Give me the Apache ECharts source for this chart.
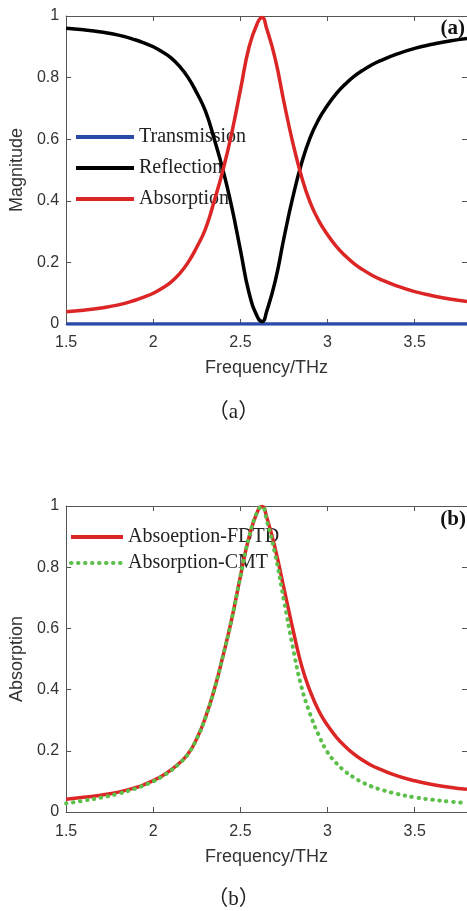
<!DOCTYPE html>
<html>
<head>
<meta charset="utf-8">
<script src="https://cdn.jsdelivr.net/npm/echarts@6/dist/echarts.min.js"></script>
<style>
  html, body { margin: 0; padding: 0; background: #fff; }
  #chart { width: 467px; height: 911px; }
</style>
</head>
<body>
<div id="chart"></div>
<script>
// shared frequency grid, THz
var freq = [1.5, 1.6, 1.7, 1.8, 1.9, 1.95, 2.0, 2.05, 2.1, 2.15, 2.2, 2.25, 2.3, 2.35, 2.4, 2.45, 2.5, 2.55, 2.6, 2.625, 2.65, 2.7, 2.75, 2.8, 2.85, 2.9, 2.95, 3.0, 3.05, 3.1, 3.15, 3.2, 3.25, 3.3, 3.4, 3.5, 3.6, 3.7, 3.8];

// panel (a)
var transA = [0, 0, 0, 0, 0, 0, 0, 0, 0, 0, 0, 0, 0, 0, 0, 0, 0, 0, 0, 0, 0, 0, 0, 0, 0, 0, 0, 0, 0, 0, 0, 0, 0, 0, 0, 0, 0, 0, 0];
var reflA = [0.960, 0.955, 0.948, 0.938, 0.922, 0.912, 0.900, 0.884, 0.865, 0.837, 0.80, 0.75, 0.69, 0.60, 0.50, 0.38, 0.24, 0.10, 0.02, 0.008, 0.04, 0.14, 0.28, 0.41, 0.52, 0.605, 0.665, 0.71, 0.748, 0.778, 0.803, 0.823, 0.840, 0.854, 0.877, 0.895, 0.908, 0.919, 0.927];
var absA = [0.040, 0.045, 0.052, 0.062, 0.078, 0.088, 0.100, 0.116, 0.135, 0.163, 0.20, 0.25, 0.31, 0.40, 0.50, 0.62, 0.76, 0.90, 0.98, 0.995, 0.96, 0.86, 0.72, 0.59, 0.48, 0.395, 0.335, 0.29, 0.252, 0.222, 0.197, 0.177, 0.160, 0.146, 0.123, 0.105, 0.092, 0.081, 0.073];

// panel (b)
var fdtdB = [0.042, 0.048, 0.055, 0.065, 0.080, 0.090, 0.103, 0.118, 0.137, 0.16, 0.19, 0.24, 0.31, 0.40, 0.51, 0.63, 0.77, 0.90, 0.985, 0.998, 0.965, 0.86, 0.73, 0.60, 0.48, 0.395, 0.33, 0.283, 0.245, 0.215, 0.19, 0.17, 0.153, 0.14, 0.118, 0.102, 0.09, 0.081, 0.074];
var cmtB = [0.028, 0.037, 0.047, 0.060, 0.077, 0.088, 0.100, 0.116, 0.135, 0.159, 0.19, 0.24, 0.31, 0.40, 0.51, 0.63, 0.77, 0.90, 0.985, 0.998, 0.955, 0.84, 0.69, 0.54, 0.41, 0.32, 0.25, 0.195, 0.16, 0.133, 0.113, 0.097, 0.084, 0.074, 0.059, 0.048, 0.040, 0.034, 0.029];

function pairs(xs, ys) {
    return xs.map(function (x, i) { return [x, ys[i]]; });
}

var axisColor = '#555';
var labelColor = '#333';

function xBottom(gridIndex, labelMargin, nameGap) {
    return {
        type: 'value', gridIndex: gridIndex, position: 'bottom',
        min: 1.5, max: 3.8, interval: 0.5,
        name: 'Frequency/THz', nameLocation: 'middle', nameGap: nameGap,
        nameTextStyle: { fontFamily: 'Liberation Sans', fontSize: 18, color: labelColor },
        axisLine: { show: true, onZero: false, lineStyle: { color: axisColor, width: 1 } },
        axisTick: { inside: true, length: 5, lineStyle: { color: axisColor } },
        axisLabel: { margin: labelMargin, fontFamily: 'Liberation Sans', fontSize: 16, color: labelColor, showMaxLabel: false },
        splitLine: { show: false }
    };
}
function xTop(gridIndex) {
    return {
        type: 'value', gridIndex: gridIndex, position: 'top',
        min: 1.5, max: 3.8, interval: 0.5,
        axisLine: { show: true, onZero: false, lineStyle: { color: axisColor, width: 1 } },
        axisTick: { inside: true, length: 5, lineStyle: { color: axisColor } },
        axisLabel: { show: false },
        splitLine: { show: false }
    };
}
function yLeft(gridIndex, name, nameGap) {
    return {
        type: 'value', gridIndex: gridIndex, position: 'left',
        min: 0, max: 1, interval: 0.2,
        name: name, nameLocation: 'middle', nameGap: nameGap,
        nameTextStyle: { fontFamily: 'Liberation Sans', fontSize: 18, color: labelColor },
        axisLine: { show: true, onZero: false, lineStyle: { color: axisColor, width: 1 } },
        axisTick: { show: true, inside: true, length: 5, lineStyle: { color: axisColor } },
        axisLabel: { margin: 7, fontFamily: 'Liberation Sans', fontSize: 16, color: labelColor },
        splitLine: { show: false }
    };
}
function yRight(gridIndex) {
    return {
        type: 'value', gridIndex: gridIndex, position: 'right',
        min: 0, max: 1, interval: 0.2,
        axisLine: { show: true, onZero: false, lineStyle: { color: axisColor, width: 1 } },
        axisTick: { show: true, inside: true, length: 5, lineStyle: { color: axisColor } },
        axisLabel: { show: false },
        splitLine: { show: false }
    };
}

var legendText = { fontFamily: 'Liberation Serif', fontSize: 20, color: '#222', lineHeight: 20 };

var myChart = echarts.init(document.getElementById('chart'));
var option = {
    animation: false,
    backgroundColor: '#fff',
    grid: [
        { left: 64, top: 16, width: 404.8, height: 308 },
        { left: 63, top: 506, width: 404.8, height: 306 }
    ],
    xAxis: [xBottom(0, 11, 35), xTop(0), xBottom(1, 12, 36), xTop(1)],
    yAxis: [yLeft(0, 'Magnitude', 30), yRight(0), yLeft(1, 'Absorption', 33), yRight(1)],
    legend: [
        {
            data: ['Transmission', 'Reflection', 'Absorption'],
            orient: 'vertical', left: 74, top: 127, padding: 0,
            itemWidth: 58, itemHeight: 14, itemGap: 11,
            itemStyle: { opacity: 0 },
            lineStyle: { width: 4 },
            textStyle: legendText
        },
        {
            data: ['Absoeption-FDTD', 'Absorption-CMT'],
            orient: 'vertical', left: 69, top: 527, padding: 0,
            itemWidth: 52, itemHeight: 14, itemGap: 6,
            itemStyle: { opacity: 0 },
            lineStyle: { width: 4 },
            textStyle: legendText
        }
    ],
    series: [
        {
            name: 'Transmission', type: 'line', xAxisIndex: 0, yAxisIndex: 0,
            symbol: 'none', smooth: true, color: '#2a4aa8',
            lineStyle: { width: 3.5, color: '#2a4aa8' },
            data: pairs(freq, transA), z: 3
        },
        {
            name: 'Reflection', type: 'line', xAxisIndex: 0, yAxisIndex: 0,
            symbol: 'none', smooth: true, color: '#000',
            lineStyle: { width: 3.5, color: '#000' },
            data: pairs(freq, reflA), z: 4
        },
        {
            name: 'Absorption', type: 'line', xAxisIndex: 0, yAxisIndex: 0,
            symbol: 'none', smooth: true, color: '#dc2626',
            lineStyle: { width: 3.5, color: '#dc2626' },
            data: pairs(freq, absA), z: 5
        },
        {
            name: 'Absoeption-FDTD', type: 'line', xAxisIndex: 2, yAxisIndex: 2,
            symbol: 'none', smooth: true, color: '#dc2626',
            lineStyle: { width: 3.5, color: '#dc2626' },
            data: pairs(freq, fdtdB), z: 4
        },
        {
            name: 'Absorption-CMT', type: 'line', xAxisIndex: 2, yAxisIndex: 2,
            symbol: 'none', smooth: true, color: '#5cbf4a',
            lineStyle: { width: 4, color: '#5cbf4a', type: [0.5, 6.5], cap: 'round' },
            data: pairs(freq, cmtB), z: 5
        }
    ],
    graphic: [
        {
            type: 'text', right: 2, top: 18,
            style: { text: '(a)', fontFamily: 'Liberation Serif', fontWeight: 'bold', fontSize: 21, fill: '#111' }
        },
        {
            type: 'text', right: 1, top: 509,
            style: { text: '(b)', fontFamily: 'Liberation Serif', fontWeight: 'bold', fontSize: 21, fill: '#111' }
        },
        {
            type: 'text', left: 'center', top: 402,
            style: { text: '（a）', fontFamily: 'Liberation Serif, Noto Sans CJK SC', fontSize: 21, fill: '#222' }
        },
        {
            type: 'text', left: 'center', top: 889,
            style: { text: '（b）', fontFamily: 'Liberation Serif, Noto Sans CJK SC', fontSize: 21, fill: '#222' }
        }
    ]
};
myChart.setOption(option);
</script>
</body>
</html>
